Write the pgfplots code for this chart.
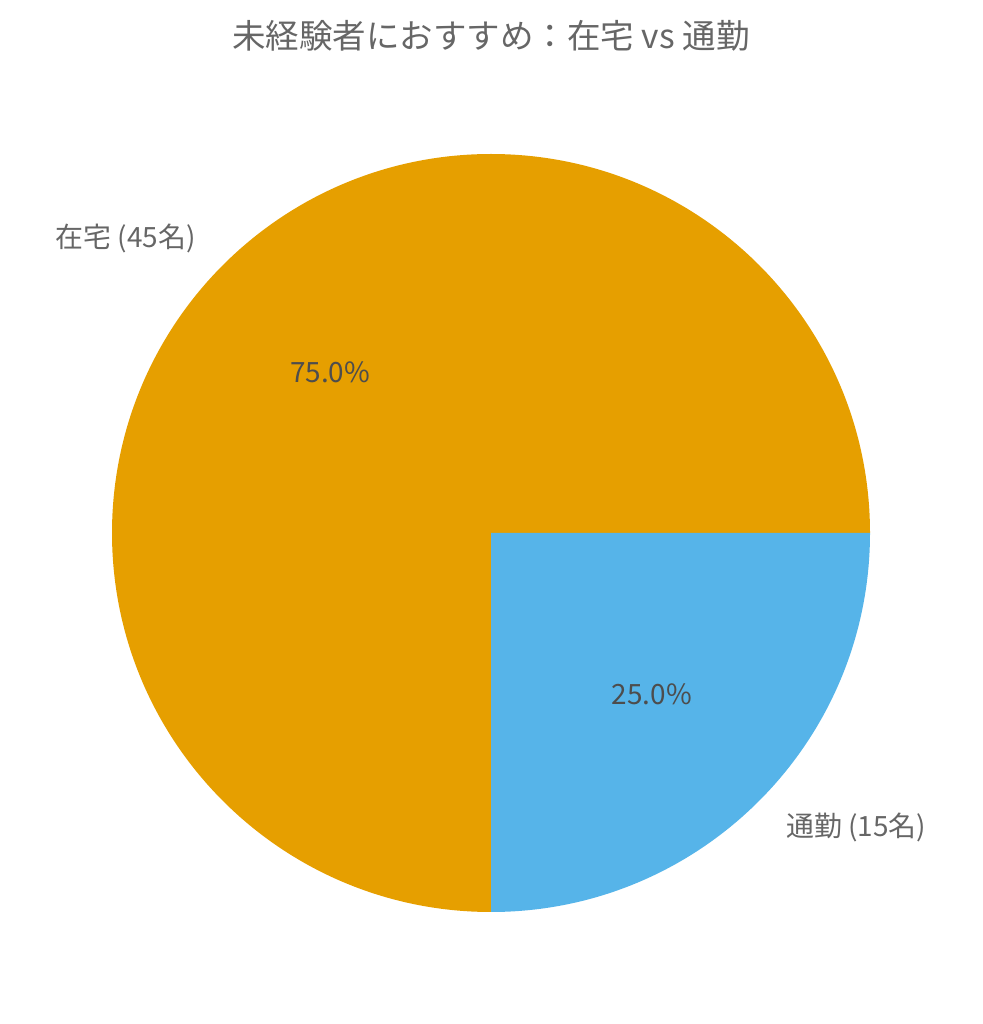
\documentclass[border=0pt]{standalone}
\usepackage{fontspec}
\setmainfont{Noto Sans CJK JP}
\usepackage{pgfplots}
\usepackage{pgfplotstable}
\pgfplotsset{compat=1.18}

\definecolor{zaitaku}{HTML}{E69F00}
\definecolor{tsukin}{HTML}{56B4E9}
\definecolor{labelgray}{HTML}{666666}
\definecolor{pctgray}{HTML}{4D4D4D}

% answers per work style
\pgfplotstableread{
label value
在宅 45
通勤 15
}\shares

\begin{document}
\begin{tikzpicture}
\pgfplotstablegetelem{0}{value}\of\shares \let\va\pgfplotsretval
\pgfplotstablegetelem{1}{value}\of\shares \let\vb\pgfplotsretval
\pgfmathsetmacro{\tot}{\va+\vb}
\pgfmathsetmacro{\angA}{360*\va/\tot}
\pgfmathsetmacro{\midA}{\angA/2}
\pgfmathsetmacro{\midB}{(\angA+360)/2}
\pgfmathsetmacro{\pA}{100*\va/\tot}
\pgfmathsetmacro{\pB}{100*\vb/\tot}
\def\cx{491}\def\cy{491}\def\R{379}
\begin{axis}[
    hide axis,
    scale only axis,
    width=9.82cm, height=10.24cm,
    xmin=0, xmax=982, ymin=0, ymax=1024,
    clip=false,
    /pgf/number format/assume math mode=true,
  ]
  \path (axis cs:0,0) rectangle (axis cs:982,1024);
  \fill[zaitaku] (axis cs:\cx,\cy) -- (axis cs:{\cx+\R},\cy)
    arc[start angle=0, end angle=\angA, radius=\R] -- cycle;
  \fill[tsukin] (axis cs:\cx,\cy) -- (axis cs:\cx,{\cy-\R})
    arc[start angle=\angA, end angle=360, radius=\R] -- cycle;

  \node[anchor=east, inner sep=0pt, text=labelgray, font=\fontsize{7.94}{9}\selectfont]
    at (axis cs:{\cx+1.1*\R*cos(\midA)},{\cy+1.1*\R*sin(\midA)}) {在宅 (45名)};
  \node[anchor=west, inner sep=0pt, text=labelgray, font=\fontsize{7.94}{9}\selectfont]
    at (axis cs:{\cx+1.1*\R*cos(\midB)},{\cy+1.1*\R*sin(\midB)}) {通勤 (15名)};
  \node[inner sep=0pt, text=pctgray, font=\fontsize{7.94}{9}\selectfont]
    at (axis cs:{\cx+0.6*\R*cos(\midA)},{\cy+0.6*\R*sin(\midA)})
    {\pgfmathprintnumber[fixed,fixed zerofill,precision=1,assume math mode=true]{\pA}\%};
  \node[inner sep=0pt, text=pctgray, font=\fontsize{7.94}{9}\selectfont]
    at (axis cs:{\cx+0.6*\R*cos(\midB)},{\cy+0.6*\R*sin(\midB)})
    {\pgfmathprintnumber[fixed,fixed zerofill,precision=1,assume math mode=true]{\pB}\%};

  \node[text=labelgray, font=\fontsize{9.53}{11}\selectfont]
    at (axis cs:491,988) {未経験者におすすめ：在宅 vs 通勤};
\end{axis}
\end{tikzpicture}
\end{document}
